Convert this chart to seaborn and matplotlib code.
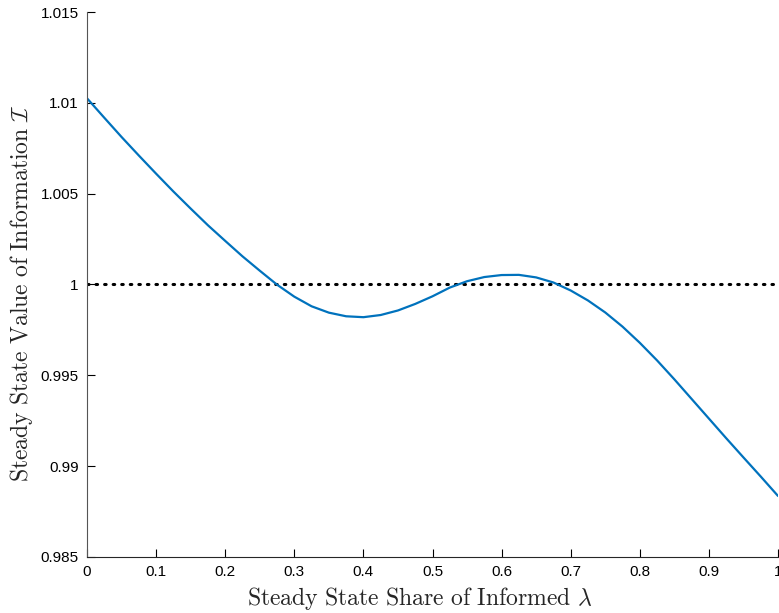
import numpy as np
import pandas as pd
import matplotlib as mpl
mpl.use("Agg")
import matplotlib.pyplot as plt
import seaborn as sns

# share of informed (x) and steady state value of information (y)
share = [0.000, 0.025, 0.050, 0.075, 0.100, 0.125, 0.150, 0.175, 0.200, 0.225,
         0.250, 0.275, 0.300, 0.325, 0.350, 0.375, 0.400, 0.425, 0.450, 0.475,
         0.500, 0.525, 0.550, 0.575, 0.600, 0.625, 0.650, 0.675, 0.700, 0.725,
         0.750, 0.775, 0.800, 0.825, 0.850, 0.875, 0.900, 0.925, 0.950, 0.975, 1.000]
value = [1.01025, 1.00918, 1.00812, 1.00710, 1.00610, 1.00512, 1.00418, 1.00326, 1.00240, 1.00155,
         1.00076, 0.99999, 0.99933, 0.99880, 0.99845, 0.99825, 0.99820, 0.99832, 0.99857, 0.99893,
         0.99935, 0.99983, 1.00018, 1.00041, 1.00052, 1.00053, 1.00039, 1.00011, 0.99967, 0.99912,
         0.99846, 0.99768, 0.99679, 0.99582, 0.99478, 0.99370, 0.99262, 0.99154, 0.99048, 0.98943, 0.98836]
ref_level = 1.0

x_ticks = [0, 0.1, 0.2, 0.3, 0.4, 0.5, 0.6, 0.7, 0.8, 0.9, 1]
y_ticks = [0.985, 0.99, 0.995, 1, 1.005, 1.01, 1.015]

df = pd.DataFrame({"share": share, "value": value})

sns.set_style("ticks")
plt.rcParams["font.family"] = ["Liberation Sans", "DejaVu Sans"]
plt.rcParams["mathtext.fontset"] = "cm"

fig = plt.figure(figsize=(7.79, 6.13), dpi=100)
ax = fig.add_axes([0.1117, 0.0914, 0.8870, 0.8890])

ax.axhline(ref_level, color="black", linestyle=(0, (0.5, 2.3)), linewidth=2.2,
           dash_capstyle="round", zorder=1)
sns.lineplot(data=df, x="share", y="value", color="#0072BD", linewidth=1.6, ax=ax, zorder=2)

ax.set_xlim(0, 1)
ax.set_ylim(0.985, 1.015)
ax.set_xticks(x_ticks)
ax.set_yticks(y_ticks)
ax.set_xticklabels([f"{t:g}" for t in x_ticks])
ax.set_yticklabels([f"{t:g}" for t in y_ticks])
ax.tick_params(direction="in", length=6, width=0.8, labelsize=11, colors="black", pad=6)

sns.despine(ax=ax)
ax.spines["left"].set_color("#555555")
ax.spines["bottom"].set_color("#262626")
for s in ["left", "bottom"]:
    ax.spines[s].set_linewidth(0.8)

ax.set_xlabel(r"$\mathrm{Steady\ State\ Share\ of\ Informed}\ \lambda$", fontsize=17.1)
ax.set_ylabel(r"$\mathrm{Steady\ State\ Value\ of\ Information}\ \mathcal{I}$", fontsize=17.1)
ax.xaxis.set_label_coords(0.481, -0.052)
ax.yaxis.set_label_coords(-0.076, 0.485)

fig.savefig("out.png", dpi=100)
